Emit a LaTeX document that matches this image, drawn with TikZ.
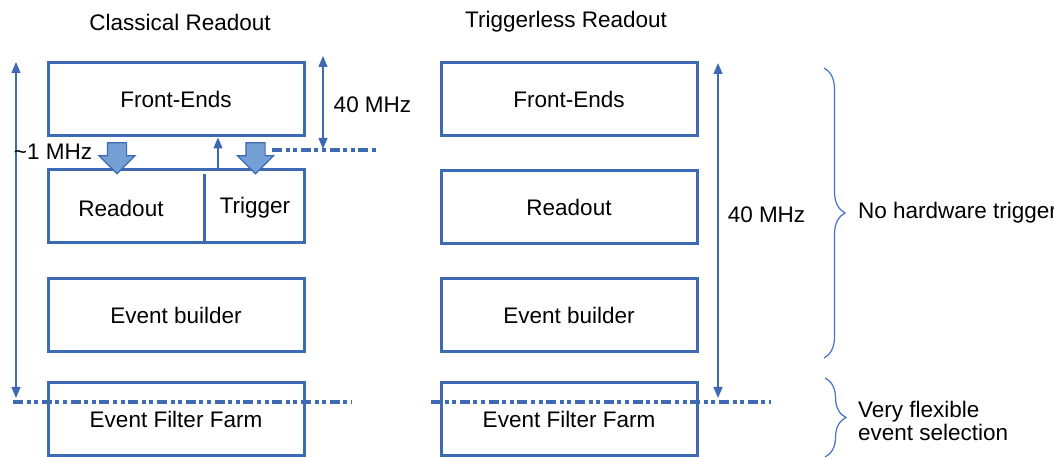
\documentclass[tikz,border=0pt]{standalone}
\usepackage{fontspec}
\setmainfont{Liberation Sans}
\usetikzlibrary{arrows.meta,shapes.arrows,decorations.pathreplacing}
\definecolor{boxblue}{RGB}{61,106,178}
\definecolor{fillblue}{RGB}{116,160,214}
\definecolor{braceblue}{RGB}{68,114,196}
\tikzset{
	blok/.style={draw=boxblue,line width=1.5pt,minimum width=128pt,minimum height=36.5pt,inner sep=0pt},
	fatarrow/.style={draw=boxblue,line width=.6pt,fill=fillblue,shape=single arrow,shape border rotate=270,
		inner sep=4.5pt,minimum height=15.5pt,minimum width=17.5pt,single arrow head extend=4.25pt},
	rate/.style={boxblue,line width=.65pt,{Triangle[width=4.5pt,length=5.5pt]}-{Triangle[width=4.5pt,length=5.5pt]}},
	up/.style={boxblue,line width=.65pt,-{Triangle[width=4.5pt,length=5.5pt]}},
	cut/.style={boxblue,line width=1.7pt,dash pattern=on 5pt off 1.8pt on 2pt off 1.8pt on 2pt off 1.8pt},
	ngoac/.style={braceblue,line width=.6pt,decorate,decoration={brace,amplitude=10.5pt}},
}
\begin{document}
\begin{tikzpicture}[x=.5pt,y=-.5pt,font=\fontsize{11.25}{11.75}\selectfont]
	\useasboundingbox (0,0) rectangle (1054,458);
	\path
	(180,22) node (T1) {Classical Readout}        % cot trai
	(176,99.5) node[blok] (FE1) {Front-Ends}
	(176,206.5) node[blok] (RT1) {}
	(121,208) node (RO1) {Readout}
	(255,208) node (TR1) {Trigger}
	(176,315) node[blok] (EB1) {Event builder}
	(176,419) node[blok] (EF1) {Event Filter Farm}
	(566,22) node (T2) {Triggerless Readout}      % cot phai
	(569,99.5) node[blok] (FE2) {Front-Ends}
	(569,207) node[blok] (RO2) {Readout}
	(569,315) node[blok] (EB2) {Event builder}
	(569,419) node[blok] (EF2) {Event Filter Farm};
	\draw[boxblue,line width=1.5pt] (204,174) -- (RT1.south -| 204,0);
	\node[fatarrow] (A1) at (117,153.5) {};
	\node[fatarrow] (A2) at (255.5,153.5) {};
	\draw[up] (RT1.north -| 218,0) -- (FE1.south -| 218,0);
	% nhip
	\coordinate (P1) at (16,62);
	\coordinate (P2) at (16,398);
	\coordinate (Q1) at (323,56);
	\coordinate (Q2) at (323,149);
	\coordinate (R1) at (718,63);
	\coordinate (R2) at (718,398);
	\draw[rate] (P1) -- (P2);
	\draw[rate] (Q1) -- (Q2);
	\draw[rate] (R1) -- (R2);
	\path
	(53,152) node (L1) {\textasciitilde 1 MHz}
	(372.5,105) node (L2) {40 MHz}
	(766.5,215) node (L3) {40 MHz};
	\draw[cut] (272,150) -- (376,150);
	\draw[cut] (13,402) -- (352,402);
	\draw[cut] (431,402) -- (771,402);
	% ngoac
	\draw[ngoac] (824,68) -- (824,358);
	\draw[ngoac] (825,378) -- (825,457);
	\node[anchor=west] (N1) at (851,213) {No hardware trigger};
	\node[anchor=west,align=left] (N2) at (851,421) {Very flexible\\event selection};
\end{tikzpicture}
\end{document}
